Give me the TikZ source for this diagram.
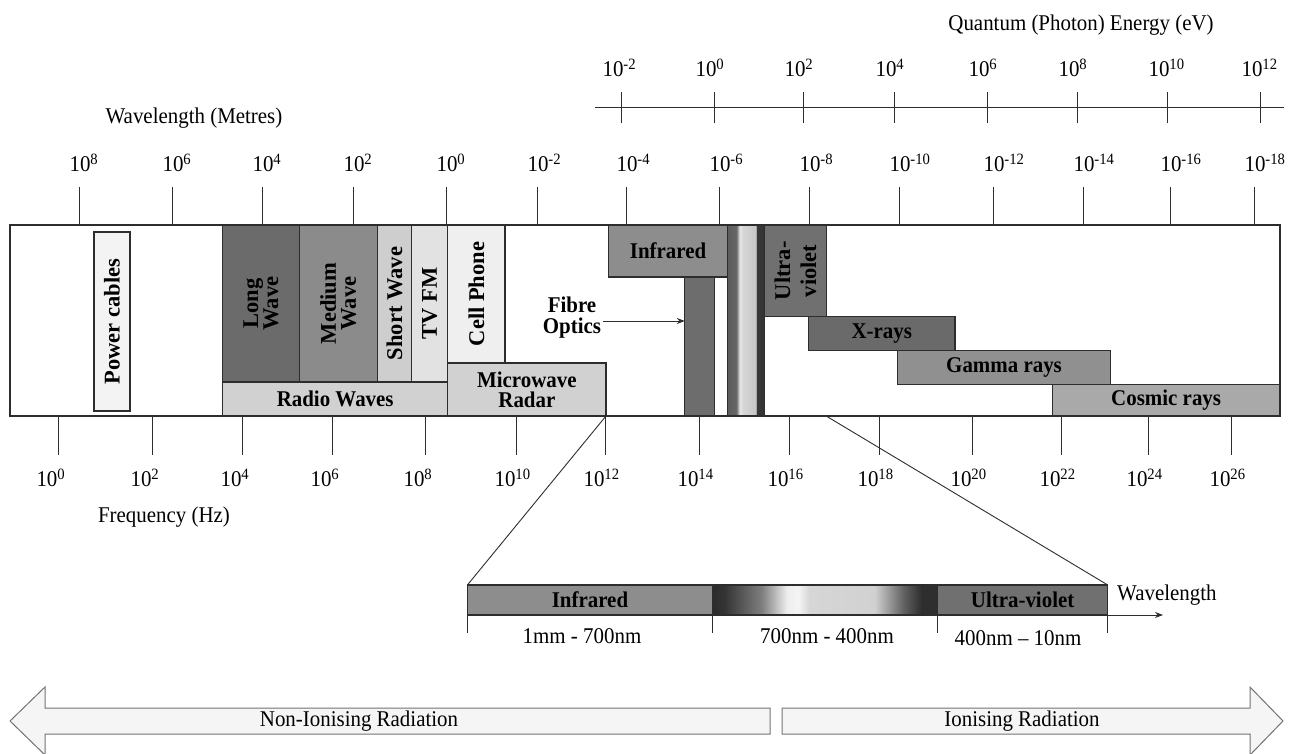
\documentclass[tikz,border=0pt]{standalone}
\usepackage{fontspec}
\setmainfont{Liberation Serif}[FakeStretch=0.93]
\newfontfamily\fullwidth{Liberation Serif}
\usetikzlibrary{arrows.meta,positioning,calc}
\definecolor{ink}{RGB}{45,45,45}
\definecolor{powerC}{RGB}{243,243,243}
\definecolor{longC}{RGB}{107,107,107}
\definecolor{medC}{RGB}{139,139,139}
\definecolor{shortC}{RGB}{206,206,206}
\definecolor{tvC}{RGB}{226,226,226}
\definecolor{cellC}{RGB}{239,239,239}
\definecolor{radioC}{RGB}{209,209,209}
\definecolor{irC}{RGB}{141,141,141}
\definecolor{fibC}{RGB}{109,109,109}
\definecolor{uvC}{RGB}{112,112,112}
\definecolor{xrC}{RGB}{106,106,106}
\definecolor{gamC}{RGB}{144,144,144}
\definecolor{cosC}{RGB}{169,169,169}
\definecolor{ionC}{RGB}{245,245,245}
\newcommand{\lbl}{\fontsize{22.5}{20}\selectfont}
\pgfdeclarehorizontalshading{visstrip}{100bp}{rgb(0bp)=(.36,.36,.36); rgb(25bp)=(.36,.36,.36);
  rgb(37bp)=(.40,.40,.40); rgb(41.5bp)=(.90,.90,.90); rgb(46bp)=(.84,.84,.84);
  rgb(63bp)=(.78,.78,.78); rgb(64.5bp)=(.22,.22,.22); rgb(75bp)=(.20,.20,.20); rgb(100bp)=(.20,.20,.20)}
\pgfdeclarehorizontalshading{visband}{100bp}{rgb(0bp)=(.17,.17,.17); rgb(25bp)=(.17,.17,.17);
  rgb(27.5bp)=(.20,.20,.20); rgb(36bp)=(.50,.50,.50); rgb(41.5bp)=(.93,.93,.93); rgb(44bp)=(.96,.96,.96);
  rgb(46.5bp)=(.84,.84,.84); rgb(61bp)=(.82,.82,.82); rgb(67.5bp)=(.38,.38,.38); rgb(71.5bp)=(.18,.18,.18);
  rgb(75bp)=(.18,.18,.18); rgb(100bp)=(.18,.18,.18)}
\tikzset{
  band/.style={draw=ink,line width=1.2pt,inner sep=0pt,outer sep=0pt,font=\lbl\bfseries,align=center},
  vlab/.style={rotate=90,font=\fullwidth\lbl\bfseries,align=center,inner sep=0pt},
  tick/.style={draw=ink,line width=0.9pt},
  num/.style={font=\lbl,inner sep=1pt},
  axlab/.style={font=\lbl,inner sep=1pt},
  ptr/.style={-{Stealth[length=8pt,width=6pt]},line width=0.9pt,ink},
  zoomline/.style={line width=0.9pt,ink},
  bigarrow/.style={draw=black!55,line width=1pt,fill=ionC,line join=miter},
}
% \band[options]{name}{x1}{y1}{x2}{y2}{text}
\newcommand{\band}[7][]{%
  \node[band,minimum width={(#5-#3)*1pt},minimum height={(#6-#4)*1pt},#1]
    (#2) at ({(#3+#5)/2},{(#4+#6)/2}) {#7};}

\begin{document}
\begin{tikzpicture}[x=1pt,y=-1pt]
\useasboundingbox (0,0) rectangle (1290,754);
\clip (0,0) rectangle (1290,754);
% photon energy scale
\node[axlab] (qlab) at (1081,25) {Quantum (Photon) Energy (eV)};
\coordinate (e0) at (595,107);
\coordinate (e1) at (1284,107);
\draw[tick] (e0) -- (e1);
\foreach \x/\e in {621/-2,714/0,803/2,894/4,987/6,1077/8,1167/10,1260/12}{
  \draw[tick] (\x,92) -- (\x,123);
  \node[num] at (\x-8,68) {10\rlap{\textsuperscript{\e}}};
}
% wavelength scale
\node[axlab] (wlab) at (194,118) {Wavelength (Metres)};
\foreach \x/\e in {79/8,172/6,262/4,353/2,446/0,537/-2,626/-4,719/-6,809/-8,899/-10,993/-12,1083/-14,1170/-16,1254/-18}{
  \draw[tick] (\x,187) -- (\x,225);
  \node[num] at (\x+1,163) {10\rlap{\textsuperscript{\e}}};
}
% frequency scale
\foreach \x/\e in {58/0,152/2,242/4,332/6,425/8,516/10,605/12,699/14,789/16,879/18,972/20,1061/22,1148/24,1231/26}{
  \draw[tick] (\x,416) -- (\x,455);
  \node[num] at (\x-11,478) {10\rlap{\textsuperscript{\e}}};
}
\node[axlab] (flab) at (164,517) {Frequency (Hz)};

% spectrum frame
\band[fill=white]{frame}{10}{225}{1280}{416}{}
\band[fill=powerC]{pc}{94}{232}{130}{411}{}
\node[vlab] at (pc) {Power cables};
% radio part
\band[fill=longC]{lw}{222.6}{225}{299.3}{382}{}
\band[fill=medC]{mw}{299.3}{225}{377.3}{382}{}
\band[fill=shortC]{sw}{377.3}{225}{411.7}{382}{}
\band[fill=tvC]{tv}{411.7}{225}{447.8}{382}{}
\band[fill=cellC]{cell}{447.8}{225}{505}{363}{}
\band[fill=radioC]{radio}{222.6}{382}{447.8}{416}{Radio Waves}
\band[fill=radioC]{micro}{447.8}{363}{606}{416}{Microwave\\Radar}
\node[vlab] at (lw) {Long\\Wave};
\node[vlab] at (mw) {Medium\\Wave};
\node[vlab] at (sw) {Short Wave};
\node[vlab] at (tv) {TV FM};
\node[vlab] at (cell) {Cell Phone};
% optical part
\band[fill=irC]{ir}{608.8}{225}{727.4}{277}{Infrared}
\band[fill=fibC]{fib}{684.8}{277}{714.2}{416}{}
\band[shading=visstrip]{vis}{727.4}{225}{764.7}{416}{}
\band[fill=uvC]{uv}{764.7}{225}{826.2}{316.7}{}
\node[vlab,font=\fullwidth\fontsize{22.5}{26}\selectfont\bfseries] at (uv) {Ultra-\\violet};
\node[font=\fontsize{22.5}{21}\selectfont\bfseries,align=center,inner sep=2pt] (fibre) at (572,318) {Fibre\\Optics};
\draw[ptr] ([yshift=-3pt]fibre.east) -- ([yshift=-3pt]fibre.east -| fib.west);
% ionising part
\band[fill=xrC]{xr}{808.6}{316.7}{954.9}{350.7}{X-rays}
\band[fill=gamC]{gam}{897.8}{350.7}{1110.3}{384.3}{Gamma rays}
\band[fill=cosC]{cos}{1052.3}{384.3}{1280}{416}{Cosmic rays}

% enlarged optical band
\band[fill=irC]{irb}{467.4}{585}{712.6}{615}{Infrared}
\band[shading=visband]{visb}{712.6}{585}{937.5}{615}{}
\band[fill=uvC]{uvb}{937.5}{585}{1107.7}{615}{Ultra-violet}
\draw[zoomline] (micro.south east) -- (irb.north west);
\draw[zoomline] (uv.east |- frame.south) -- (uvb.north east);
\coordinate (wtip) at (1163,615);
\draw[ptr] (irb.south west) -- (wtip);
\node[axlab,anchor=west] (wvl) at (1116,595) {Wavelength};
\foreach \n in {irb,visb,uvb}{
  \draw[tick] (\n.south west) -- ++(0,18);
}
\draw[tick] (uvb.south east) -- ++(0,18);
\node[num] (r1) at (582,636) {1mm - 700nm};
\node[num] (r2) at (827,636) {700nm - 400nm};
\node[num] (r3) at (1018,638) {400nm – 10nm};

% radiation arrows
\draw[bigarrow] (10,721) -- (45,687) -- (45,708) -- (770,708) -- (770,734) -- (45,734) -- (45,755) -- cycle;
\draw[bigarrow] (1283,721) -- (1250,687) -- (1250,708) -- (782,708) -- (782,734) -- (1250,734) -- (1250,755) -- cycle;
\node[axlab] (nonion) at (359,721) {Non-Ionising Radiation};
\node[axlab] (ion) at (1022,721) {Ionising Radiation};
\end{tikzpicture}
\end{document}
